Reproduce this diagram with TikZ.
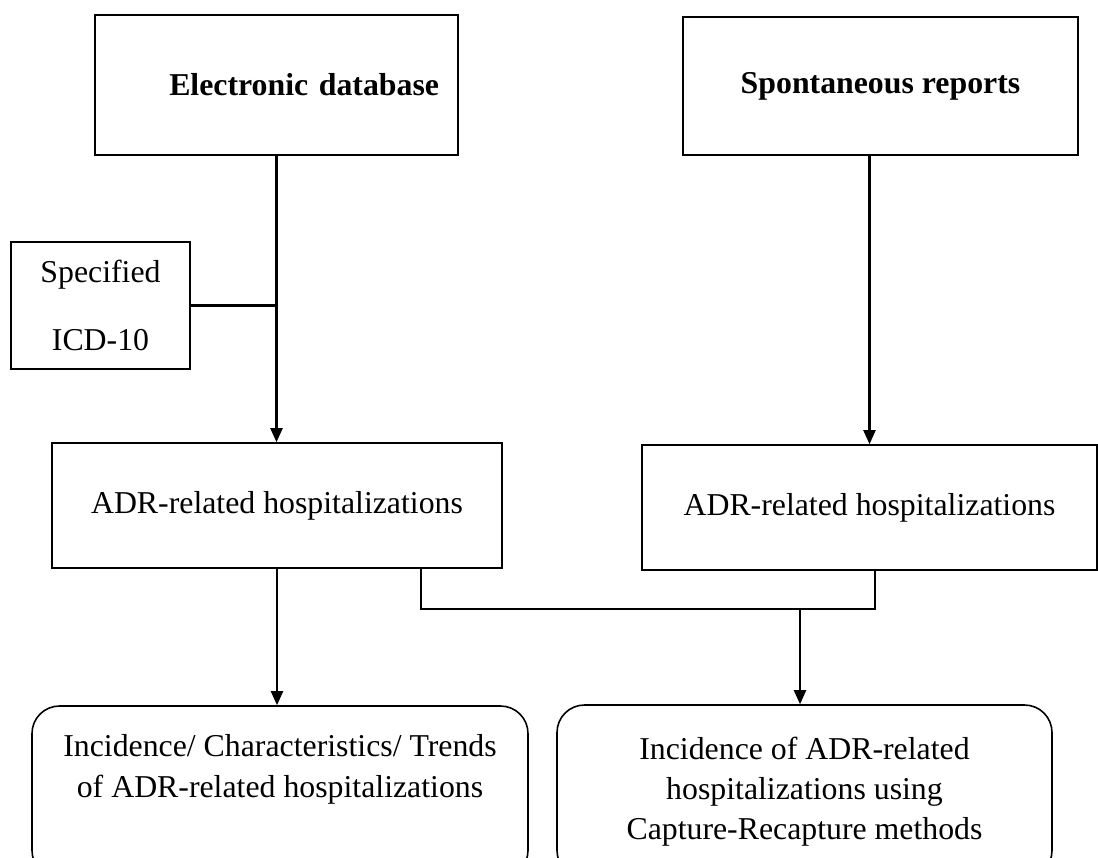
\documentclass[tikz,border=0pt]{standalone}
\usepackage{fontspec}
\setmainfont{Liberation Serif}
\usetikzlibrary{arrows.meta}

\begin{document}
\begin{tikzpicture}[
  box/.style={draw, line width=0.9pt, align=center, inner sep=0pt, font=\fontsize{18.1}{22.8}\selectfont},
  src/.style={box, font=\fontsize{18.1}{22.8}\selectfont\bfseries},
  result/.style={box, rounded corners=0.55cm},
  arr/.style={-{Triangle[length=0.28cm,width=0.24cm]}, line width=1.2pt},
  conn/.style={line width=1.2pt}
]
\useasboundingbox (0,0) rectangle (21.96,-17.14);
\node[src,minimum height=2.8cm,text width=6.5cm,inner xsep=0.38cm,align=right] (ed) at (5.53,-1.70)
  {Electronic database};
\node[src,minimum width=7.9cm,minimum height=2.76cm] (sr) at (17.61,-1.72)
  {Spontaneous reports};
\node[box,minimum width=3.58cm,minimum height=2.54cm,font=\fontsize{18.1}{38.7}\selectfont] (icd) at (2.01,-6.11)
  {Specified\\ICD-10};
\node[box,minimum width=9cm,minimum height=2.5cm] (la) at (5.54,-10.11)
  {ADR-related hospitalizations};
\node[box,minimum width=9.1cm,minimum height=2.5cm] (ra) at (17.39,-10.15)
  {ADR-related hospitalizations};
\node[result,minimum width=9.92cm,minimum height=3.44cm] (res1) at (5.60,-15.84)
  {Incidence/ Characteristics/ Trends\\of ADR-related hospitalizations\\\strut};
\node[result,minimum width=9.9cm,minimum height=3.46cm] (res2) at (16.09,-15.83)
  {Incidence of ADR-related\\hospitalizations using\\Capture-Recapture methods};
\coordinate (mrg) at (16.00,-12.18);
\draw[arr] (ed.south) -- (ed.south |- la.north);
\draw[conn] (icd.east) -- (icd.east -| ed.south);
\draw[arr] (sr.south -| ra.north) -- (ra.north);
\draw[arr] (la.south) -- (la.south |- res1.north);
\draw[conn] ([xshift=2.88cm]la.south) |- (mrg) -| ([xshift=0.11cm]ra.south);
\draw[arr] (mrg) -- (mrg |- res2.north);
\end{tikzpicture}
\end{document}
